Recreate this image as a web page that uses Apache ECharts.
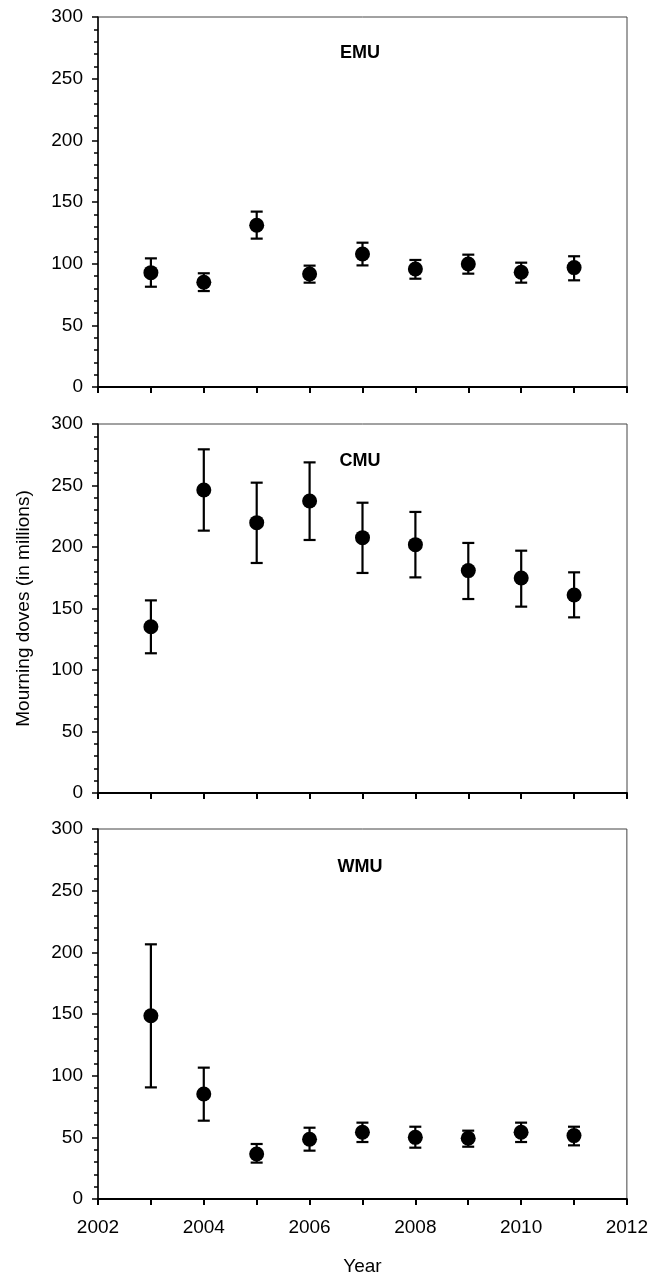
<!DOCTYPE html>
<html>
<head>
<meta charset="utf-8">
<script src="https://cdn.jsdelivr.net/npm/echarts@6/dist/echarts.min.js"></script>
<style>
  html, body { margin: 0; padding: 0; background: #fff; }
  #chart { width: 651px; height: 1279px; }
</style>
</head>
<body>
<div id="chart"></div>
<script>
// years on x axis
const years = [2003, 2004, 2005, 2006, 2007, 2008, 2009, 2010, 2011]
const panelNames = ['EMU', 'CMU', 'WMU']

// estimates (millions) and error bar ends
const emuMean = [92.7, 84.9, 131.1, 91.6, 107.8, 95.7, 99.7, 93.0, 96.8]
const emuLow = [81.3, 77.8, 120.3, 84.6, 98.6, 87.8, 91.9, 84.6, 86.5]
const emuHigh = [104.3, 92.2, 142.2, 98.4, 117.0, 103.0, 107.3, 100.8, 106.0]

const cmuMean = [135.2, 246.3, 219.8, 237.4, 207.6, 201.9, 180.8, 174.8, 161.0]
const cmuLow = [113.6, 213.3, 187.0, 205.7, 178.9, 175.3, 157.7, 151.5, 142.8]
const cmuHigh = [156.6, 279.4, 252.3, 268.8, 236.0, 228.5, 203.3, 197.0, 179.4]

const wmuMean = [148.6, 85.1, 36.5, 48.4, 54.1, 50.0, 49.2, 54.1, 51.4]
const wmuLow = [90.5, 63.5, 29.5, 39.2, 46.2, 41.6, 42.4, 46.2, 43.5]
const wmuHigh = [206.5, 106.5, 44.6, 57.8, 61.9, 58.6, 55.4, 61.9, 58.6]

const yTicks = [0, 50, 100, 150, 200, 250, 300]

const means = [emuMean, cmuMean, wmuMean]
const lows = [emuLow, cmuLow, wmuLow]
const highs = [emuHigh, cmuHigh, wmuHigh]

const font = 'Liberation Sans, Arial, sans-serif'
const grids = [
  { left: 98, right: 24, top: 17, height: 370 },
  { left: 98, right: 24, top: 424, height: 369 },
  { left: 98, right: 24, top: 829, height: 370 }
]
const titleTops = [39, 447, 853]

var myChart = echarts.init(document.getElementById('chart'))

let xAxis = []
let yAxis = []
let series = []
let title = []

grids.forEach(function (g, i) {
  g.show = true
  g.borderColor = '#444'
  g.borderWidth = 1
  const last = i === grids.length - 1
  xAxis.push({
    gridIndex: i,
    type: 'value',
    min: 2002,
    max: 2012,
    interval: 1,
    name: last ? 'Year' : '',
    nameLocation: 'middle',
    nameGap: 58,
    nameTextStyle: { color: '#000', fontSize: 19, fontFamily: font },
    axisLine: { show: true, lineStyle: { color: '#000', width: 2 } },
    axisTick: { show: true, inside: false, length: 6, lineStyle: { color: '#000', width: 2 } },
    splitLine: { show: false },
    axisLabel: {
      show: last,
      margin: 19,
      color: '#000',
      fontSize: 19,
      fontFamily: font,
      formatter: function (v) {
        return v % 2 === 0 ? String(v) : ''
      }
    }
  })
  yAxis.push({
    gridIndex: i,
    type: 'value',
    min: yTicks[0],
    max: yTicks[yTicks.length - 1],
    interval: yTicks[1] - yTicks[0],
    name: i === 1 ? 'Mourning doves (in millions)' : '',
    nameLocation: 'middle',
    nameRotate: 90,
    nameGap: 65,
    nameTextStyle: { color: '#000', fontSize: 19, fontFamily: font },
    axisLine: { show: true, lineStyle: { color: '#000', width: 1.5 } },
    axisTick: { show: true, inside: false, length: 6, lineStyle: { color: '#000', width: 1.5 } },
    minorTick: { show: true, splitNumber: 5, length: 4, lineStyle: { color: '#000', width: 1.5 } },
    splitLine: { show: false },
    axisLabel: { margin: 15, color: '#000', fontSize: 19, fontFamily: font }
  })
  title.push({
    text: panelNames[i],
    left: 355,
    top: titleTops[i],
    textAlign: 'center',
    textStyle: { color: '#000', fontSize: 18, fontWeight: 'bold', fontFamily: font }
  })

  // error bars
  series.push({
    type: 'custom',
    xAxisIndex: i,
    yAxisIndex: i,
    silent: true,
    data: years.map(function (y, k) {
      return [y, lows[i][k], highs[i][k]]
    }),
    renderItem: function (params, api) {
      const lo = api.coord([api.value(0), api.value(1)])
      const hi = api.coord([api.value(0), api.value(2)])
      const half = 6
      const style = { stroke: '#000', lineWidth: 2.2 }
      return {
        type: 'group',
        children: [
          { type: 'line', shape: { x1: lo[0], y1: lo[1], x2: hi[0], y2: hi[1] }, style: style },
          { type: 'line', shape: { x1: hi[0] - half, y1: hi[1], x2: hi[0] + half, y2: hi[1] }, style: style },
          { type: 'line', shape: { x1: lo[0] - half, y1: lo[1], x2: lo[0] + half, y2: lo[1] }, style: style }
        ]
      }
    },
    z: 2
  })
  // point estimates
  series.push({
    type: 'scatter',
    xAxisIndex: i,
    yAxisIndex: i,
    symbol: 'circle',
    symbolSize: 15,
    itemStyle: { color: '#000', opacity: 1 },
    data: years.map(function (y, k) {
      return [y, means[i][k]]
    }),
    z: 3
  })
})

let option = {
  backgroundColor: '#fff',
  animation: false,
  title: title,
  grid: grids,
  xAxis: xAxis,
  yAxis: yAxis,
  series: series
}

myChart.setOption(option)
window.onresize = function () {
  myChart.resize()
}
</script>
</body>
</html>
